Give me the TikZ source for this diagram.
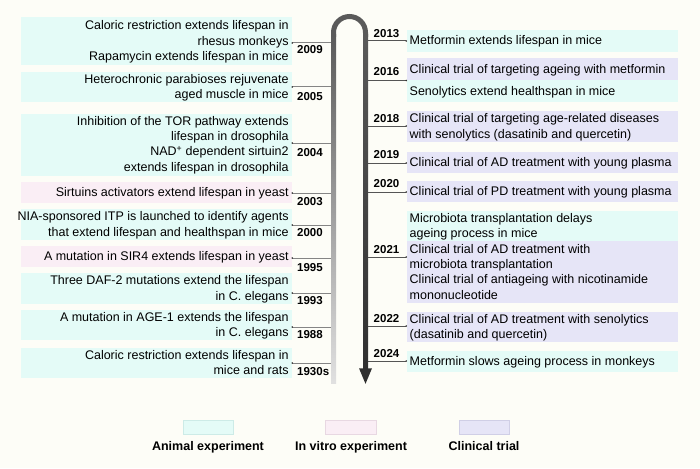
\documentclass[tikz,border=0pt]{standalone}
\usepackage{fontspec}
\setmainfont{Liberation Sans}
\definecolor{bgc}{HTML}{FDFDF7}
\definecolor{cyanc}{HTML}{E4FBF7}
\definecolor{pinkc}{HTML}{FAEEF5}
\definecolor{lavc}{HTML}{E6E5F7}
\definecolor{cyanb}{HTML}{CDEBE7}
\definecolor{pinkb}{HTML}{E8D8E2}
\definecolor{lavb}{HTML}{D0CFE6}
\definecolor{barc}{HTML}{5A5A5A}
\definecolor{bard}{HTML}{303030}
\definecolor{tickl}{HTML}{858585}
\definecolor{tickr}{HTML}{555555}
\newcommand\LL[3]{\node[txt, anchor=base east] (#1) at (288.8,#2) {#3};}
\newcommand\RL[3]{\node[txt, anchor=base west] (#1) at (409.5,#2) {#3};}
\newcommand\LY[3]{\node[yr, anchor=base west] (#1) at (297,#2) {#3};}
\newcommand\RY[3]{\node[yr, anchor=base east] (#1) at (399.5,#2) {#3};}
\newcommand\LTick[2]{\coordinate (lt#1) at (292.3,#2); \coordinate (lb#1) at (331,#2);
  \draw[tickline, draw=tickl] (lt#1) -- (lb#1); \fill[tickdot] (lt#1) circle (0.9pt);}
\newcommand\RTick[2]{\coordinate (rb#1) at (368,#2); \coordinate (rt#1) at (406.3,#2);
  \draw[tickline, draw=tickr] (rb#1) -- (rt#1); \fill[tickdot] (rt#1) circle (0.9pt);}
\begin{document}
\begin{tikzpicture}[x=1pt,y=-1pt,
  box/.style={draw=none, inner sep=0pt, outer sep=0pt, anchor=north west},
  lbox/.style={box, minimum width=271.3pt},
  rbox/.style={box, minimum width=271.5pt},
  txt/.style={inner sep=0pt, font=\fontsize{12.5}{15}\selectfont},
  yr/.style={inner sep=0pt, font=\fontsize{11.5}{13}\selectfont\bfseries},
  lg/.style={inner sep=0pt, font=\fontsize{12.5}{15}\selectfont\bfseries, anchor=base},
  tickline/.style={line width=1pt},
  tickdot/.style={fill=black!80},
  legbox/.style={box, line width=0.8pt, minimum width=50.5pt, minimum height=14pt}]
\fill[bgc] (0,0) rectangle (700,468);
\useasboundingbox (0,0) rectangle (700,468);

% ---------- left boxes ----------
\node[lbox, fill=cyanc, minimum height=48pt] (L2009) at (20.7,17) {};
\node[lbox, fill=cyanc, minimum height=30pt] (L2005) at (20.7,72) {};
\node[lbox, fill=cyanc, minimum height=62pt] (L2004) at (20.7,113.5) {};
\node[lbox, fill=pinkc, minimum height=21pt] (L2003) at (20.7,182) {};
\node[lbox, fill=cyanc, minimum height=31pt] (L2000) at (20.7,209) {};
\node[lbox, fill=pinkc, minimum height=21pt] (L1995) at (20.7,246) {};
\node[lbox, fill=cyanc, minimum height=31pt] (L1993) at (20.7,273) {};
\node[lbox, fill=cyanc, minimum height=30pt] (L1988) at (20.7,310) {};
\node[lbox, fill=cyanc, minimum height=30pt] (L1930) at (20.7,348) {};

% ---------- right boxes ----------
\node[rbox, fill=cyanc, minimum height=21.7pt] (R2013) at (406.5,30) {};
\node[rbox, fill=lavc, minimum height=22.2pt] (R2016a) at (406.5,58.3) {};
\node[rbox, fill=cyanc, minimum height=21.2pt] (R2016b) at (406.5,80.5) {};
\node[rbox, fill=lavc, minimum height=31pt] (R2018) at (406.5,111) {};
\node[rbox, fill=lavc, minimum height=21pt] (R2019) at (406.5,152) {};
\node[rbox, fill=lavc, minimum height=21pt] (R2020) at (406.5,181) {};
\node[rbox, fill=cyanc, minimum height=30pt] (R2021a) at (406.5,211) {};
\node[rbox, fill=lavc, minimum height=62pt] (R2021b) at (406.5,241) {};
\node[rbox, fill=lavc, minimum height=30pt] (R2022) at (406.5,312) {};
\node[rbox, fill=cyanc, minimum height=21pt] (R2024) at (406.5,351) {};

% ---------- timeline bars ----------
\draw[line width=5pt, draw=barc] (333.5,37) -- (333.5,32.5)
  arc[start angle=180, end angle=0, radius=16pt] -- (365.5,37);
\shade[top color=barc, bottom color=black!12] (331,35) rectangle (336,383);
\shade[top color=barc, bottom color=bard] (363,35) rectangle (368,369);
\fill[bard] (359,368.3) -- (372,368.3) -- (365.5,383.8) -- cycle;

% ---------- ticks ----------
\LTick{2009}{43}
\LTick{2005}{87}
\LTick{2004}{143}
\LTick{2003}{193}
\LTick{2000}{225}
\LTick{1995}{258}
\LTick{1993}{293}
\LTick{1988}{327}
\LTick{1930}{363}
\RTick{2013}{41}
\RTick{2016}{80.5}
\RTick{2018}{126}
\RTick{2019}{163}
\RTick{2020}{192}
\RTick{2021}{257}
\RTick{2022}{326}
\RTick{2024}{361}

% ---------- left texts ----------
\LL{ta1}{30}{Caloric restriction extends lifespan in}
\LL{ta2}{45.5}{rhesus monkeys}
\LL{ta3}{61}{Rapamycin extends lifespan in mice}
\LL{tb1}{83.4}{Heterochronic parabioses rejuvenate}
\LL{tb2}{98.7}{aged muscle in mice}
\LL{tc1}{125.3}{Inhibition of the TOR pathway extends}
\LL{tc2}{140.6}{lifespan in drosophila}
\LL{tc3}{155.9}{NAD\textsuperscript{+} dependent sirtuin2}
\LL{tc4}{171.2}{extends lifespan in drosophila}
\LL{td1}{196.7}{Sirtuins activators extend lifespan in yeast}
\LL{te1}{220.9}{NIA-sponsored ITP is launched to identify agents}
\LL{te2}{236.2}{that extend lifespan and healthspan in mice}
\LL{tf1}{260.7}{A mutation in SIR4 extends lifespan in yeast}
\LL{tg1}{284.9}{Three DAF-2 mutations extend the lifespan}
\LL{tg2}{300.2}{in C. elegans}
\LL{th1}{321.4}{A mutation in AGE-1 extends the lifespan}
\LL{th2}{336.7}{in C. elegans}
\LL{ti1}{359.4}{Caloric restriction extends lifespan in}
\LL{ti2}{374.7}{mice and rats}

% ---------- left years ----------
\LY{y2009}{54}{2009}
\LY{y2005}{100}{2005}
\LY{y2004}{156}{2004}
\LY{y2003}{205}{2003}
\LY{y2000}{236}{2000}
\LY{y1995}{271}{1995}
\LY{y1993}{304}{1993}
\LY{y1988}{338}{1988}
\LY{y1930}{375}{1930s}

% ---------- right texts ----------
\RL{ra1}{45}{Metformin extends lifespan in mice}
\RL{rb1}{73.5}{Clinical trial of targeting ageing with metformin}
\RL{rb2}{95.2}{Senolytics extend healthspan in mice}
\RL{rc1}{122.9}{Clinical trial of targeting age-related diseases}
\RL{rc2}{138.2}{with senolytics (dasatinib and quercetin)}
\RL{rd1}{166.6}{Clinical trial of AD treatment with young plasma}
\RL{re1}{195.6}{Clinical trial of PD treatment with young plasma}
\RL{rf1}{222.4}{Microbiota transplantation delays}
\RL{rf2}{237.7}{ageing process in mice}
\RL{rg1}{253.1}{Clinical trial of AD treatment with}
\RL{rg2}{268.4}{microbiota transplantation}
\RL{rg3}{283.7}{Clinical trial of antiageing with nicotinamide}
\RL{rg4}{299}{mononucleotide}
\RL{rh1}{323.4}{Clinical trial of AD treatment with senolytics}
\RL{rh2}{338.7}{(dasatinib and quercetin)}
\RL{ri1}{365.6}{Metformin slows ageing process in monkeys}

% ---------- right years ----------
\RY{y2013}{37.5}{2013}
\RY{y2016}{76}{2016}
\RY{y2018}{122}{2018}
\RY{y2019}{158}{2019}
\RY{y2020}{187}{2020}
\RY{y2021}{253}{2021}
\RY{y2022}{322}{2022}
\RY{y2024}{357}{2024}

% ---------- legend ----------
\node[legbox, fill=cyanc, draw=cyanb] (kA) at (183,420) {};
\node[legbox, fill=pinkc, draw=pinkb] (kB) at (325.5,420) {};
\node[legbox, fill=lavc, draw=lavb] (kC) at (459,420) {};
\node[lg] (lA) at (208,450.5) {Animal experiment};
\node[lg] (lB) at (351,450.5) {In vitro experiment};
\node[lg] (lC) at (484,450.5) {Clinical trial};
\end{tikzpicture}
\end{document}
